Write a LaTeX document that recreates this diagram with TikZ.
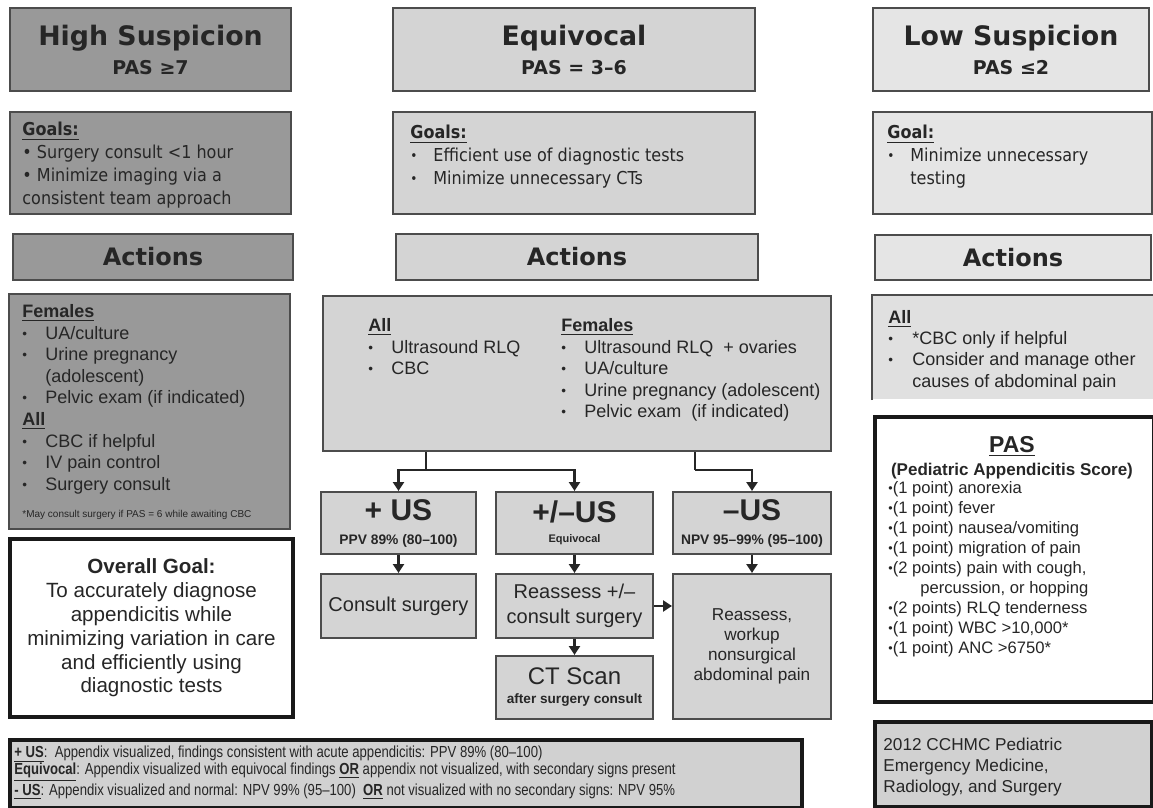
\documentclass[tikz,border=0pt]{standalone}
\usepackage{fontspec}
\setmainfont{Liberation Sans}
\newfontfamily\headfont{DejaVu Sans}
\newfontfamily\goalfont[FakeStretch=0.9]{DejaVu Sans}
\newfontfamily\narrowfont[FakeStretch=0.82]{Liberation Sans}
\usetikzlibrary{arrows.meta}

\definecolor{hsfill}{gray}{0.6}
\definecolor{eqfill}{gray}{0.83}
\definecolor{lsfill}{gray}{0.9}
\definecolor{lslistfill}{gray}{0.88}
\definecolor{notefill}{gray}{0.82}
\definecolor{edge}{gray}{0.3}
\definecolor{ink}{gray}{0.15}

\newcommand{\ttlfont}{\headfont\bfseries\fontsize{13.4}{14.5}\selectfont}
\newcommand{\subfont}{\fontsize{9.5}{11}\selectfont}
\newcommand{\actfont}{\headfont\bfseries\fontsize{12}{14}\selectfont}
\newcommand{\gfont}{\goalfont\fontsize{8.9}{11.4}\selectfont}
\newcommand{\lfont}{\fontsize{9}{10.8}\selectfont}
\newcommand{\usfont}{\bfseries\fontsize{15}{12}\selectfont}
\newcommand{\smallb}{\fontsize{6.9}{8}\selectfont}
\newcommand{\dotb}{\raisebox{0.1ex}{\scalebox{0.75}{\textbullet}}}
\newcommand{\itm}[1]{\makebox[11.5pt][l]{\dotb}#1}

\tikzset{
  box/.style={rectangle, draw=edge, line width=1pt, anchor=north west, inner sep=0pt, text=ink},
  hsbox/.style={box, fill=hsfill},
  eqbox/.style={box, fill=eqfill},
  lsbox/.style={box, fill=lsfill},
  heavy/.style={box, draw=black!90, line width=2pt},
  txt/.style={anchor=north west, inner sep=0pt, align=left, text=ink},
  stem/.style={line width=1.4pt, draw=black!85},
  arr/.style={stem, -{Triangle[width=5.5pt,length=4.5pt]}},
}

\begin{document}
\begin{tikzpicture}[x=0.5pt, y=-0.5pt]
\useasboundingbox (0,0) rectangle (1153,808);

% high suspicion column
\node[hsbox, minimum width=140.5pt, minimum height=41.5pt, font=\ttlfont, align=center] (hs) at (9,7) {High Suspicion\\{\subfont PAS ≥7}};
\node[hsbox, minimum width=140.5pt, minimum height=51pt] (hsgoal) at (9,111) {};
\node[txt, font=\gfont] (hsgoaltxt) at (22,122) {\textbf{\underline{Goals:}}\\• Surgery consult <1 hour\\• Minimize imaging via a\\consistent team approach};
\node[hsbox, minimum width=140pt, minimum height=23pt, font=\actfont] (hsact) at (12,233) {Actions};
\node[hsbox, minimum width=140.5pt, minimum height=117.5pt] (hslist) at (8,293) {};
\node[txt, font=\lfont] (hslisttxt) at (22,304) {\underline{\textbf{Females}}\\\itm{UA/culture}\\\itm{Urine pregnancy}\\\hspace*{11.5pt}(adolescent)\\\itm{Pelvic exam (if indicated)}\\\underline{\textbf{All}}\\\itm{CBC if helpful}\\\itm{IV pain control}\\\itm{Surgery consult}};
\node[anchor=base west, inner sep=0pt, text=ink, font=\fontsize{5}{6}\selectfont] (hsnote) at (22,517) {*May consult surgery if PAS = 6 while awaiting CBC};
\node[heavy, fill=white, minimum width=141.5pt, minimum height=89pt, align=center, font=\fontsize{10.3}{11.9}\selectfont] (overall) at (8,537) {{\bfseries Overall Goal:}\\To accurately diagnose\\appendicitis while\\minimizing variation in care\\and efficiently using\\diagnostic tests};

% equivocal column
\node[eqbox, minimum width=181pt, minimum height=41.5pt, font=\ttlfont, align=center] (eq) at (392,7) {Equivocal\\{\subfont PAS = 3–6}};
\node[eqbox, minimum width=181pt, minimum height=51pt] (eqgoal) at (392,111) {};
\node[txt, font=\gfont] (eqgoaltxt) at (410,125) {\textbf{\underline{Goals:}}\\\itm{Efficient use of diagnostic tests}\\\itm{Minimize unnecessary CTs}};
\node[eqbox, minimum width=181pt, minimum height=23pt, font=\actfont] (eqact) at (395,233) {Actions};
\node[eqbox, minimum width=254pt, minimum height=77.5pt] (eqlist) at (322,295) {};
\node[txt, font=\lfont] (alltxt) at (368,318) {\underline{\textbf{All}}\\\itm{Ultrasound RLQ}\\\itm{CBC}};
\node[txt, font=\lfont] (femtxt) at (561,318) {\underline{\textbf{Females}}\\\itm{Ultrasound RLQ\ \ + ovaries}\\\itm{UA/culture}\\\itm{Urine pregnancy (adolescent)}\\\itm{Pelvic exam\ \ (if indicated)}};

\node[eqbox, minimum width=77.5pt, minimum height=31pt, align=center, font=\usfont] (pus) at (320,491) {+ US\\{\smallb PPV 89\% (80–100)}};
\node[eqbox, minimum width=78.5pt, minimum height=31pt, align=center, font=\usfont] (eus) at (495,491) {+/–US\\[-2pt]{\fontsize{5.5}{7}\selectfont Equivocal}};
\node[eqbox, minimum width=79pt, minimum height=31pt, align=center, font=\usfont] (nus) at (672,491) {–US\\{\smallb NPV 95–99\% (95–100)}};
\node[eqbox, minimum width=77.5pt, minimum height=32pt, font=\fontsize{10}{12.5}\selectfont] (consult) at (320,573) {Consult surgery};
\node[eqbox, minimum width=78.5pt, minimum height=32pt, align=center, font=\fontsize{10}{12.5}\selectfont] (reass) at (495,573) {Reassess +/–\\consult surgery};
\node[eqbox, minimum width=78.5pt, minimum height=31.5pt, align=center, font=\fontsize{12}{9.5}\selectfont] (ct) at (495,655) {CT Scan\\{\bfseries\fontsize{6.8}{8}\selectfont after surgery consult}};
\node[eqbox, minimum width=79pt, minimum height=72.5pt, align=center, font=\fontsize{8.6}{10}\selectfont] (workup) at (672,573) {Reassess,\\workup\\nonsurgical\\abdominal pain};

\coordinate (j1) at (426,470);
\coordinate (j2) at (695,470);
\draw[stem] (eqlist.south -| j1) -- (j1);
\draw[stem] (eqlist.south -| j2) -- (j2);
\draw[arr] (j1) -| (pus.north);
\draw[arr] (j1) -| (eus.north);
\draw[arr] (j2) -| (nus.north);
\draw[arr] (pus) -- (consult);
\draw[arr] (eus) -- (reass);
\draw[arr] (reass) -- (ct);
\draw[arr] (nus) -- (workup);
\draw[arr] (reass.east) -- (reass.east -| workup.west);

% low suspicion column
\node[lsbox, minimum width=138pt, minimum height=41.5pt, font=\ttlfont, align=center] (ls) at (872,7) {Low Suspicion\\{\subfont PAS ≤2}};
\node[lsbox, minimum width=139.5pt, minimum height=51pt] (lsgoal) at (872,111) {};
\node[txt, font=\gfont] (lsgoaltxt) at (887,125) {\textbf{\underline{Goal:}}\\\itm{Minimize unnecessary}\\\hspace*{11.5pt}testing};
\node[lsbox, minimum width=138pt, minimum height=22.5pt, font=\actfont] (lsact) at (874,234) {Actions};
\node[box, draw=none, fill=lslistfill, minimum width=140pt, minimum height=51.5pt] (lslist) at (872,295) {};
\draw[edge, line width=1pt] (lslist.south west) |- (lslist.north east) -- (lslist.south east);
\node[txt, font=\fontsize{9}{10.6}\selectfont] (lslisttxt) at (888,310) {\underline{\textbf{All}}\\\makebox[12pt][l]{\dotb}*CBC only if helpful\\\makebox[12pt][l]{\dotb}Consider and manage other\\\hspace*{12pt}causes of abdominal pain};

\node[heavy, fill=white, minimum width=139.5pt, minimum height=142.5pt] (pas) at (873,415) {};
\node[anchor=base, inner sep=0pt, text=ink, font=\bfseries\fontsize{11.5}{12}\selectfont] (pastitle) at (1012,452) {\underline{PAS}};
\node[anchor=base, inner sep=0pt, text=ink, font=\bfseries\fontsize{8.5}{10}\selectfont] (pasname) at (1012,475) {(Pediatric Appendicitis Score)};
\node[txt, font=\fontsize{8.3}{10}\selectfont] (paslist) at (888,481) {\dotb(1 point) anorexia\\\dotb(1 point) fever\\\dotb(1 point) nausea/vomiting\\\dotb(1 point) migration of pain\\\dotb(2 points) pain with cough,\\\hspace*{16pt}percussion, or hopping\\\dotb(2 points) RLQ tenderness\\\dotb(1 point) WBC >10,000*\\\dotb(1 point) ANC >6750*};

\node[heavy, fill=notefill, minimum width=138.5pt, minimum height=42.5pt] (cchmc) at (873,720) {};
\node[txt, font=\fontsize{8.6}{10.5}\selectfont] (cchmctxt) at (883,738) {2012 CCHMC Pediatric\\Emergency Medicine,\\Radiology, and Surgery};

% legend
\node[heavy, fill=notefill, minimum width=396pt, minimum height=34pt] (legend) at (8,738) {};
\node[txt, font=\narrowfont\fontsize{8}{8.1}\selectfont] (legendtxt) at (14,746) {\underline{\textbf{+ US}}:\ \ Appendix visualized, findings consistent with acute appendicitis: PPV 89\% (80–100)\\\underline{\textbf{Equivocal}}: Appendix visualized with equivocal findings \underline{\textbf{OR}} appendix not visualized, with secondary signs present\\\underline{\textbf{- US}}: Appendix visualized and normal: NPV 99\% (95–100)\ \ \underline{\textbf{OR}} not visualized with no secondary signs: NPV 95\%};
\end{tikzpicture}
\end{document}
